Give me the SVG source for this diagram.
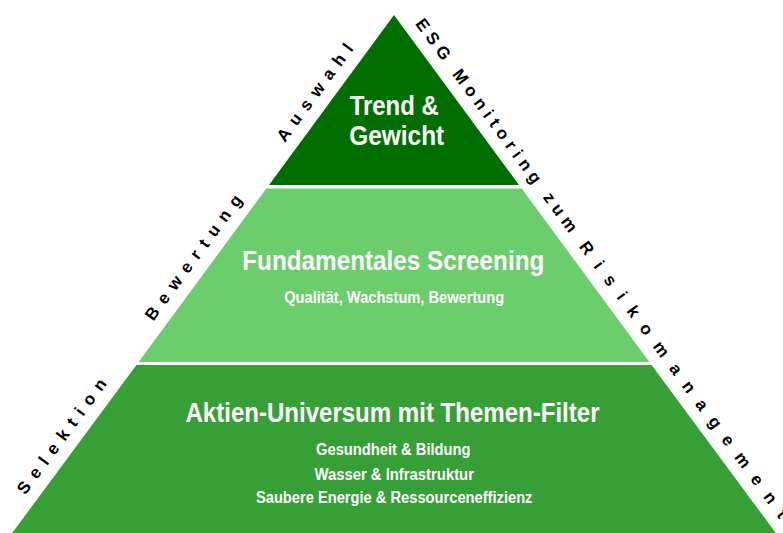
<svg xmlns="http://www.w3.org/2000/svg" width="783" height="533" viewBox="0 0 783 533">
  <style>
    .title { font-family: "Liberation Sans Narrow", "Liberation Sans", Arial, sans-serif; font-weight: bold; fill: #ffffff; text-anchor: middle; }
    .big { font-size: 28px; }
    .small { font-size: 17px; }
    .item { font-size: 16px; }
    .side { font-family: "Liberation Sans", Arial, sans-serif; font-weight: bold; font-size: 17px; fill: #000000; }
  </style>
  <rect width="783" height="533" fill="#ffffff"/>

  <!-- Top tier -->
  <g id="tier-top">
    <polygon points="394,15 519,185 269,185" fill="#006f00"/>
    <text class="title big" x="394.2" y="115" textLength="89" lengthAdjust="spacingAndGlyphs">Trend &amp;</text>
    <text class="title big" x="396.7" y="145" textLength="95" lengthAdjust="spacingAndGlyphs">Gewicht</text>
  </g>

  <!-- Middle tier -->
  <g id="tier-middle">
    <polygon points="266.3,188.5 521.7,188.5 649.4,362 138.6,362" fill="#6ccd6c"/>
    <text class="title big" x="393.3" y="269.5" textLength="302" lengthAdjust="spacingAndGlyphs">Fundamentales Screening</text>
    <text class="title small" x="394.2" y="303" textLength="220" lengthAdjust="spacingAndGlyphs">Qualität, Wachstum, Bewertung</text>
  </g>

  <!-- Bottom tier -->
  <g id="tier-bottom">
    <polygon points="136.4,365 651.6,365 778,536 10,536" fill="#36a036"/>
    <text class="title big" x="392.5" y="421.5" textLength="414" lengthAdjust="spacingAndGlyphs">Aktien-Universum mit Themen-Filter</text>
    <text class="title item" x="393.3" y="455" textLength="154.5" lengthAdjust="spacingAndGlyphs">Gesundheit &amp; Bildung</text>
    <text class="title item" x="394.2" y="479.5" textLength="159.5" lengthAdjust="spacingAndGlyphs">Wasser &amp; Infrastruktur</text>
    <text class="title item" x="394.2" y="503" textLength="276.5" lengthAdjust="spacingAndGlyphs">Saubere Energie &amp; Ressourceneffizienz</text>
  </g>

  <!-- Labels along the left edge -->
  <g id="labels-left" transform="translate(2.7,526.2) rotate(-53.63)">
    <text class="side" x="38" y="0" letter-spacing="7.9">Selektion</text>
    <text class="side" x="253.9" y="0" letter-spacing="7.9">Bewertung</text>
    <text class="side" x="476" y="0" letter-spacing="7.8">Auswahl</text>
  </g>

  <!-- Label along the right edge -->
  <g id="label-right" transform="translate(403.3,8.2) rotate(53.66)">
    <text class="side" x="19.3" y="0" letter-spacing="5.5">ESG Monitoring zum</text>
    <text class="side" x="295.8" y="0" letter-spacing="12.2">Risikomanagement</text>
  </g>
</svg>
